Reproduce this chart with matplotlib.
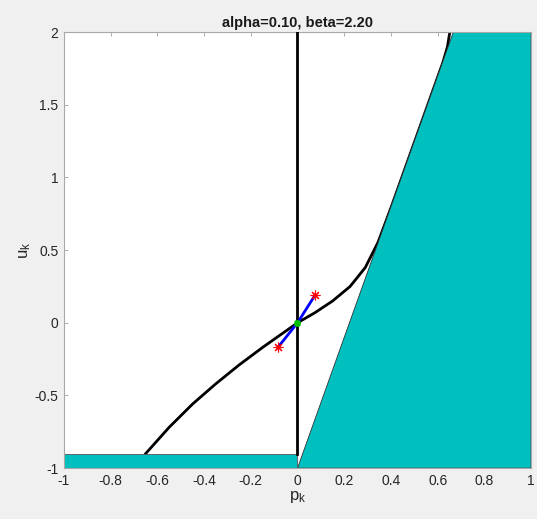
import matplotlib
matplotlib.use("Agg")
import matplotlib.pyplot as plt

plt.rcParams["font.family"] = ["Liberation Sans", "DejaVu Sans"]

title = "alpha=0.10, beta=2.20"

# feasible region (cyan)
region_p = [0.0, 0.667, 1.0, 1.0]
region_u = [-1.0, 2.0, 2.0, -1.0]
strip_p = [-1.0, 0.0, 0.0, -1.0]
strip_u = [-1.0, -1.0, -0.9, -0.9]

# black curve
curve_p = [-0.65, -0.55, -0.45, -0.35, -0.25, -0.15, -0.075, 0.0, 0.075, 0.15,
           0.225, 0.29, 0.345, 0.402, 0.462, 0.522, 0.582, 0.622, 0.642, 0.652]
curve_u = [-0.90, -0.72, -0.56, -0.42, -0.29, -0.17, -0.085, 0.0, 0.07, 0.15,
           0.25, 0.38, 0.555, 0.80, 1.07, 1.34, 1.61, 1.79, 1.90, 2.0]

# vertical line
vert_p = [0.0, 0.0]
vert_u = [-0.9, 2.0]

# step segment
step_p = [-0.082, 0.0, 0.075]
step_u = [-0.165, 0.0, 0.19]

xticks = [-1, -0.8, -0.6, -0.4, -0.2, 0, 0.2, 0.4, 0.6, 0.8, 1]
xticklabels = ["-1", "-0.8", "-0.6", "-0.4", "-0.2", "0", "0.2", "0.4", "0.6", "0.8", "1"]
yticks = [-1, -0.5, 0, 0.5, 1, 1.5, 2]
yticklabels = ["-1", "-0.5", "0", "0.5", "1", "1.5", "2"]

fig = plt.figure(figsize=(5.37, 5.19), dpi=100, facecolor="#f0f0f0")
ax = fig.add_axes([0.119, 0.098, 0.870, 0.840])
ax.set_facecolor("white")

cyan = "#00bfbf"
ax.plot(curve_p, curve_u, color="black", linewidth=2, zorder=1)
ax.fill(region_p, region_u, facecolor=cyan, edgecolor="#333333", linewidth=0.6, zorder=2)
ax.fill(strip_p, strip_u, facecolor=cyan, edgecolor="#555555", linewidth=0.6, zorder=2)

ax.plot(vert_p, vert_u, color="black", linewidth=2, zorder=3)
ax.plot(step_p, step_u, color="blue", linewidth=2, zorder=4)
ax.plot([step_p[0], step_p[2]], [step_u[0], step_u[2]], linestyle="none",
        marker=(8, 2, 0), color="red", markersize=7, markeredgewidth=0.8, zorder=5)
ax.plot([step_p[1]], [step_u[1]], linestyle="none", marker=(8, 2, 0), color="#00c000",
        markersize=5, markeredgewidth=1.2, zorder=5)

ax.set_xlim(-1, 1)
ax.set_ylim(-1, 2)
ax.set_xticks(xticks)
ax.set_xticklabels(xticklabels)
ax.set_yticks(yticks)
ax.set_yticklabels(yticklabels)
ax.tick_params(direction="in", length=3, width=0.6, colors="#a0a0a0",
               labelcolor="#262626", labelsize=10, top=True, right=True, pad=4)
for s in ax.spines.values():
    s.set_color("#a8a8a8")
    s.set_linewidth(0.8)

ax.set_xlabel(r"$\mathregular{p_k}$", fontsize=12, color="#262626", labelpad=1)
ax.set_ylabel(r"$\mathregular{u_k}$", fontsize=12, color="#262626", labelpad=1)
ax.set_title(title, fontsize=10.5, fontweight="bold", color="#1a1a1a", pad=4)

fig.savefig("out.png", dpi=100, facecolor=fig.get_facecolor())
